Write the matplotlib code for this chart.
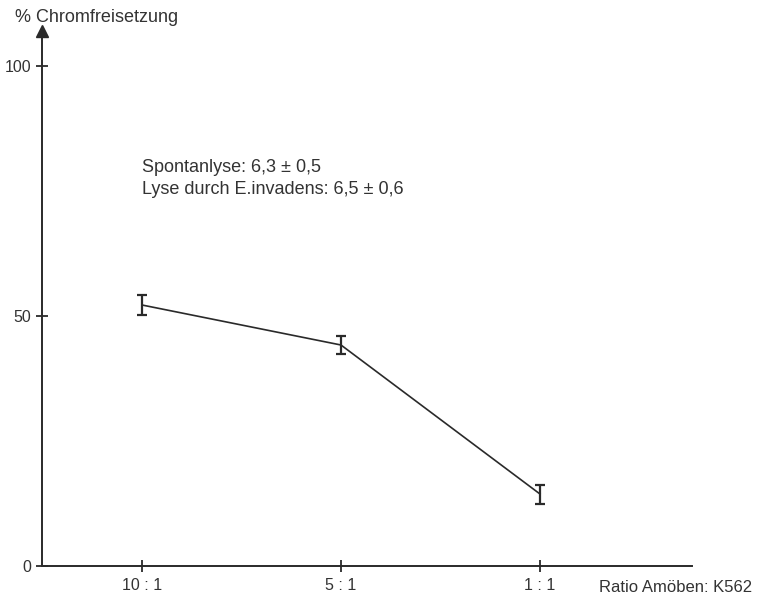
import matplotlib.pyplot as plt

plt.rcParams['font.family'] = ['Liberation Sans', 'DejaVu Sans']

# data
ratios = ['10 : 1', '5 : 1', '1 : 1']
release = [52.2, 44.2, 14.4]   # % Chromfreisetzung
err = [2.0, 1.8, 1.9]
yticks = [0, 50, 100]

ink = '#2a2a2a'
txt = '#333333'
W, H = 764, 600
fig = plt.figure(figsize=(W / 100, H / 100), dpi=100)

# axes box in pixels: left 42, right 692, bottom 566, top 31
ax = fig.add_axes([42 / W, (H - 566) / H, (692 - 42) / W, (566 - 31) / H])
x = list(range(len(ratios)))
ax.errorbar(x, release, yerr=err, color=ink, lw=1.2, capsize=3.3,
            elinewidth=1.6, capthick=1.6)

ax.set_xlim(-0.5025, 2.764)
ax.set_ylim(0, 107)
ax.set_xticks(x)
ax.set_xticklabels(ratios)
ax.set_yticks(yticks)
ax.tick_params(direction='inout', length=9, width=1.3, color=ink,
               labelsize=11.5, labelcolor=txt, pad=3)
ax.tick_params(axis='x', pad=4)

for s in ['top', 'right']:
    ax.spines[s].set_visible(False)
for s in ['left', 'bottom']:
    ax.spines[s].set_color(ink)
    ax.spines[s].set_linewidth(1.4)

# arrow head on the y axis
ax.plot(0, 1, marker='^', color=ink, markersize=8, transform=ax.transAxes,
        clip_on=False)

fig.text(15 / W, 1 - 17 / H, '% Chromfreisetzung', fontsize=13, color=txt,
         va='center', ha='left')
fig.text(752 / W, 1 - 588 / H, 'Ratio Amöben: K562', fontsize=12, color=txt,
         va='center', ha='right')
fig.text(142 / W, 1 - 167 / H, 'Spontanlyse: 6,3 ± 0,5', fontsize=13,
         color=txt, va='center', ha='left')
fig.text(142 / W, 1 - 190 / H, 'Lyse durch E.invadens: 6,5 ± 0,6',
         fontsize=13, color=txt, va='center', ha='left')

fig.savefig('out.png', dpi=100)
